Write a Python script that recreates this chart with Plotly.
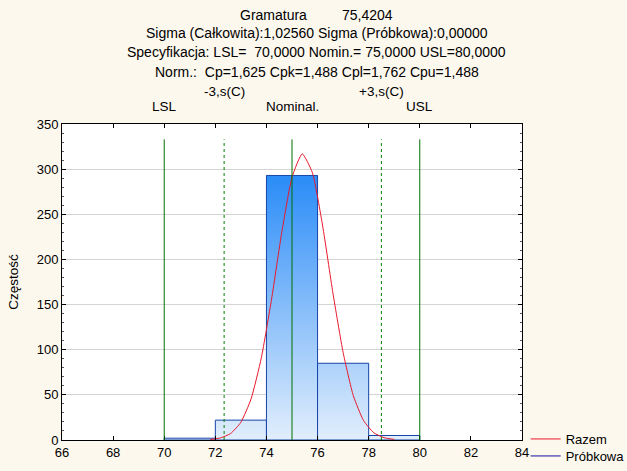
import plotly.graph_objects as go

# ---- data ----
bin_left = [70, 72, 74, 76, 78]
bin_right = [72, 74, 76, 78, 80]
counts = [2, 22, 293, 85, 5]

curve_x = [71.8, 72.2, 72.6, 73.0, 73.4, 73.8, 74.2, 74.6, 75.0, 75.4,
           75.8, 76.2, 76.6, 77.0, 77.4, 77.8, 78.2, 78.6, 79.0]
curve_y = [0.6, 2.3, 7.2, 19.6, 45.6, 91, 156, 230, 291, 317,
           296, 237, 163, 97, 49, 21.5, 8, 2.6, 0.7]

spec_x = [70.0, 75.0, 80.0]
spec_labels = ["LSL", "Nominal.", "USL"]
sigma_x = [72.3436, 78.4972]
sigma_labels = ["-3,s(C)", "+3,s(C)"]
line_top = 333

header_lines = [
    "Sigma (Całkowita):1,02560 Sigma (Próbkowa):0,00000",
    "Specyfikacja: LSL=\u00a0\u00a070,0000 Nomin.= 75,0000 USL=80,0000",
    "Norm.:\u00a0\u00a0Cp=1,625 Cpk=1,488 Cpl=1,762 Cpu=1,488",
]
var_name = "Gramatura"
var_mean = "75,4204"

FONT = "Liberation Sans, Arial, sans-serif"
fig = go.Figure()

for l, r, c in zip(bin_left, bin_right, counts):
    fig.add_trace(go.Scatter(
        x=[l, l, r, r, l], y=[0, c, c, 0, 0], mode="lines", fill="toself",
        line=dict(color="#1744A8", width=1),
        fillgradient=dict(type="vertical",
                          colorscale=[[0, "#E2EEFC"], [1, "#2A8CF8"]],
                          start=0, stop=max(counts)),
        showlegend=False, hoverinfo="skip"))

fig.add_trace(go.Scatter(x=curve_x, y=curve_y, mode="lines",
                         line=dict(color="#E8192C", width=1, shape="spline", smoothing=0.5),
                         name="Razem", legend="legend"))
fig.add_trace(go.Scatter(x=[None], y=[None], mode="lines", line=dict(color="#1010A0", width=1),
                         name="Próbkowa", legend="legend2"))

shapes = []
for v in spec_x:
    shapes.append(dict(type="line", xref="x", yref="y", x0=v, x1=v, y0=0, y1=line_top,
                       line=dict(color="#007000", width=1)))
for v in sigma_x:
    shapes.append(dict(type="line", xref="x", yref="y", x0=v, x1=v, y0=0, y1=line_top,
                       line=dict(color="#008000", width=1, dash="3px,3px")))

W, H = 627, 471
L, R, T, B = 62, 105, 124, 31
pw, ph = W - L - R, H - T - B

def px_to_paper(xp, yp):
    return (xp - L) / pw, (H - B - yp) / ph

annotations = []
ax, ay = px_to_paper(273.5, 15)
annotations.append(dict(text=var_name, x=ax, y=ay, size=14))
ax, ay = px_to_paper(367.5, 15)
annotations.append(dict(text=var_mean, x=ax, y=ay, size=14))
for t, yp in zip(header_lines, [33, 52, 72]):
    ax, ay = px_to_paper(316.5, yp)
    annotations.append(dict(text=t, x=ax, y=ay, size=14))
_, ay = px_to_paper(0, 92)
for v, t in zip(sigma_x, sigma_labels):
    annotations.append(dict(text=t, x=v, xref="x", y=ay, size=13.5))
_, ay = px_to_paper(0, 107)
for v, t in zip(spec_x, spec_labels):
    annotations.append(dict(text=t, x=v, xref="x", y=ay, size=13.5))
for a in annotations:
    size = a.pop("size")
    a.setdefault("xref", "paper")
    a["yref"] = "paper"
    a["showarrow"] = False
    a["xanchor"] = "center"
    a["yanchor"] = "middle"
    a["font"] = dict(family=FONT, size=size, color="#000000")

leg_common = dict(x=1.008, xanchor="left", yanchor="top",
                  bgcolor="rgba(0,0,0,0)", font=dict(size=13), itemwidth=30)

fig.update_layout(
    width=W, height=H,
    margin=dict(l=L, r=R, t=T, b=B, autoexpand=False),
    paper_bgcolor="#FDF8EE", plot_bgcolor="#FFFFFF",
    font=dict(family=FONT, size=13, color="#000000"),
    shapes=shapes, annotations=annotations,
    legend=dict(y=(440 - 424) / 316, **leg_common),
    legend2=dict(y=(440 - 441) / 316, **leg_common),
    xaxis=dict(range=[66, 84], tickvals=list(range(66, 85, 2)), showgrid=False,
               zeroline=False, showline=True, linecolor="#000000", linewidth=1,
               mirror="ticks", ticks="inside", ticklen=4, tickcolor="#000000"),
    yaxis=dict(range=[0, 350], tickvals=list(range(0, 351, 50)), showgrid=True,
               gridcolor="#D4D4D4", gridwidth=1, zeroline=False, showline=True,
               linecolor="#000000", linewidth=1, mirror="ticks", ticks="inside",
               ticklen=4, tickcolor="#000000",
               minor=dict(dtick=10, ticks="inside", ticklen=2, tickcolor="#555555", showgrid=False),
               title=dict(text="Częstość", standoff=14, font=dict(size=13.5))),
)

fig.write_html("out.html", config={"displayModeBar": False},
               post_script="document.body.style.margin='0';document.body.style.overflow='hidden';")
